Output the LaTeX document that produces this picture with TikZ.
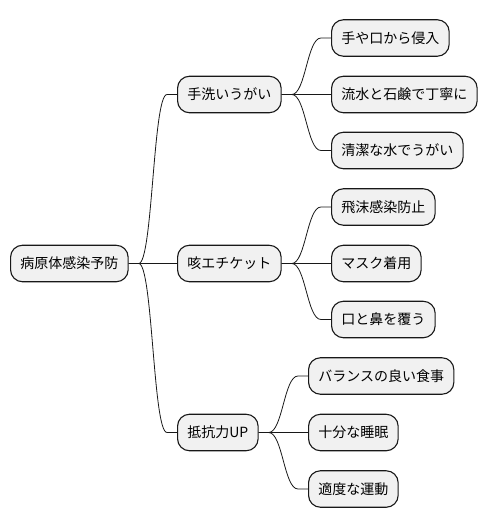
\documentclass[tikz,border=0pt]{standalone}
\usepackage{fontspec}
\setmainfont{Noto Sans CJK JP}
\usepackage{xcolor}
\usepackage{tikz}
\usetikzlibrary{shapes,arrows,positioning}

\definecolor{boxfill}{HTML}{F1F1F1}
\definecolor{boxline}{HTML}{181818}

\tikzset{
    topic/.style={
        draw=boxline,
        line width=1.1pt,
        rounded corners=0.42cm,
        fill=boxfill,
        anchor=west,
        minimum height=36.5pt,
        inner xsep=9.8pt,
        font=\fontsize{14}{16}\selectfont
    },
    branch/.style={
        draw=boxline,
        line width=0.8pt
    }
}

\begin{document}
\begin{tikzpicture}[x=1pt,y=-1pt]
                \useasboundingbox (0,0) rectangle (488,527);

                % root
                \node[topic] (root) at (10,263.5) {病原体感染予防};

                % first level
                \node[topic] (hand) at (177,94.5) {手洗いうがい};
                \node[topic] (cough) at (177,263.5) {咳エチケット};
                \node[topic] (resist) at (177,432.5) {抵抗力UP};

                % second level
                \node[topic] (hand1) at (331,38) {手や口から侵入};
                \node[topic] (hand2) at (331,94.5) {流水と石鹸で丁寧に};
                \node[topic] (hand3) at (331,150.5) {清潔な水でうがい};

                \node[topic] (cough1) at (331,207) {飛沫感染防止};
                \node[topic] (cough2) at (331,263.5) {マスク着用};
                \node[topic] (cough3) at (331,319.5) {口と鼻を覆う};

                \node[topic] (resist1) at (308,376) {バランスの良い食事};
                \node[topic] (resist2) at (308,432.5) {十分な睡眠};
                \node[topic] (resist3) at (308,489) {適度な運動};

                % connectors
                \foreach \parent/\child in {root/hand,root/cough,root/resist,
                    hand/hand1,hand/hand2,hand/hand3,
                    cough/cough1,cough/cough2,cough/cough3,
                    resist/resist1,resist/resist2,resist/resist3}
                {
                    \draw[branch] (\parent.east) -- ++(10,0)
                        .. controls +(14,0) and +(-14,0) .. ([xshift=-10pt]\child.west)
                        -- (\child.west);
                }

            \end{tikzpicture}
\end{document}
